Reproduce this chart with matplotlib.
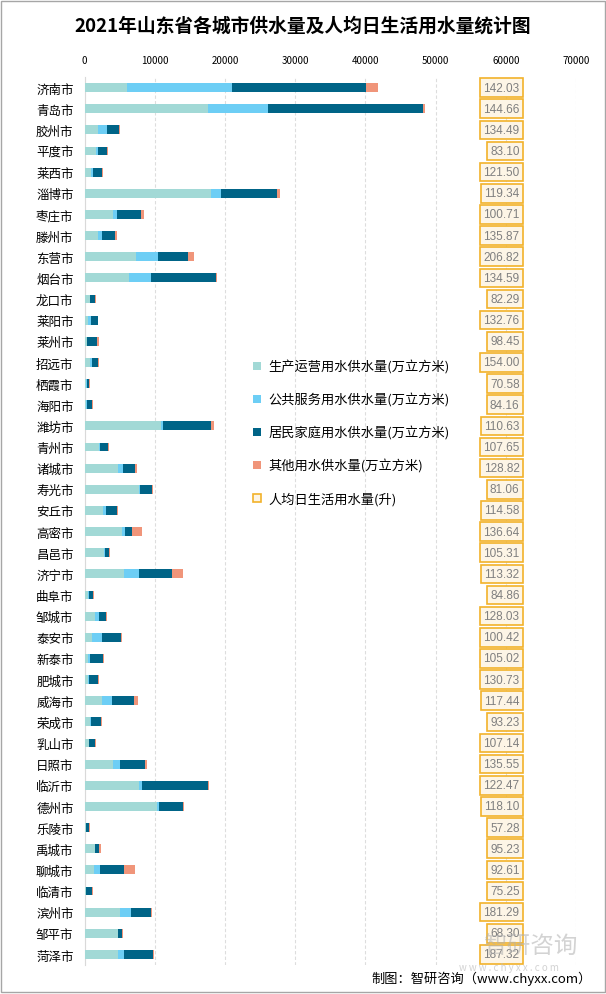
import numpy as np
import matplotlib.pyplot as plt
from matplotlib.patches import Patch, Rectangle

plt.rcParams['font.family'] = ['Noto Sans CJK SC', 'DejaVu Sans']

cities = [
    "济南市", "青岛市", "胶州市", "平度市", "莱西市", "淄博市", "枣庄市",
    "滕州市", "东营市", "烟台市", "龙口市", "莱阳市", "莱州市", "招远市",
    "栖霞市", "海阳市", "潍坊市", "青州市", "诸城市", "寿光市", "安丘市",
    "高密市", "昌邑市", "济宁市", "曲阜市", "邹城市", "泰安市", "新泰市",
    "肥城市", "威海市", "荣成市", "乳山市", "日照市", "临沂市", "德州市",
    "乐陵市", "禹城市", "聊城市", "临清市", "滨州市", "邹平市", "菏泽市",
]

# 生产运营用水 (万立方米)
production = [
    6050, 17600, 1900, 1620, 900, 18050, 4050,
    1900, 7330, 6330, 760, 480, 290, 760,
    190, 190, 10900, 2050, 4760, 7760, 2620,
    5330, 2760, 5620, 480, 1480, 1050, 480,
    480, 2480, 760, 620, 4050, 7760, 10330,
    190, 1480, 1330, 190, 5050, 4760, 4760,
]
# 公共服务用水 (万立方米)
public = [
    15000, 8570, 1290, 290, 290, 1430, 570,
    570, 3140, 3140, 50, 430, 50, 290,
    140, 140, 290, 140, 710, 50, 430,
    430, 140, 2140, 140, 570, 1430, 290,
    140, 1430, 140, 30, 1000, 430, 290,
    30, 30, 860, 30, 1570, 30, 860,
]
# 居民家庭用水 (万立方米)
household = [
    19000, 22100, 1710, 1290, 1290, 7860, 3430,
    1860, 4290, 9290, 710, 1000, 1430, 860,
    290, 710, 6860, 1140, 1710, 1710, 1570,
    1000, 570, 4710, 570, 1000, 2710, 1860,
    1290, 3140, 1430, 860, 3570, 9430, 3430,
    430, 570, 3430, 860, 2860, 570, 4140,
]
# 其他用水 (万立方米)
other = [
    1710, 190, 140, 140, 140, 430, 430,
    290, 860, 140, 100, 50, 290, 140,
    140, 140, 430, 140, 290, 140, 140,
    1430, 140, 1570, 140, 140, 140, 140,
    140, 570, 140, 140, 290, 140, 140,
    140, 290, 1570, 140, 140, 140, 140,
]
# 人均日生活用水量 (升)
per_capita = [
    142.03, 144.66, 134.49, 83.10, 121.50, 119.34, 100.71,
    135.87, 206.82, 134.59, 82.29, 132.76, 98.45, 154.00,
    70.58, 84.16, 110.63, 107.65, 128.82, 81.06, 114.58,
    136.64, 105.31, 113.32, 84.86, 128.03, 100.42, 105.02,
    130.73, 117.44, 93.23, 107.14, 135.55, 122.47, 118.10,
    57.28, 95.23, 92.61, 75.25, 181.29, 68.30, 187.32,
]

series = [
    ("生产运营用水供水量(万立方米)", production, "#A2D9D6"),
    ("公共服务用水供水量(万立方米)", public, "#6DCEF5"),
    ("居民家庭用水供水量(万立方米)", household, "#006487"),
    ("其他用水供水量(万立方米)", other, "#F0957A"),
]

fig = plt.figure(figsize=(6.06, 9.95), dpi=100)
ax = fig.add_axes([0.1398, 0.0291, 0.8107, 0.8925])

y = np.arange(len(cities))
left = np.zeros(len(cities))
handles = []
for name, vals, color in series:
    vals = np.array(vals, dtype=float)
    ax.barh(y, vals, left=left, height=0.42, color=color, zorder=3)
    left += vals
    handles.append(Patch(facecolor=color, edgecolor='none', label=name))

# per-capita labels in boxes
for yi, v in zip(y, per_capita):
    ax.text(61950, yi, f"{v:.2f}", ha='right', va='center', fontsize=8.5,
            color='#7F7F7F', family=['Liberation Sans'], zorder=4,
            bbox=dict(boxstyle='square,pad=0.28', facecolor='#FDF5E6',
                      edgecolor='#F2B22A', linewidth=1.2))
handles.append(Patch(facecolor='#FDF5E6', edgecolor='#F2B22A', linewidth=1.2,
                     label="人均日生活用水量(升)"))

ax.set_xlim(0, 70000)
ax.set_ylim(len(cities) - 0.5, -0.5)
ax.set_xticks(np.arange(0, 70001, 10000))
ax.xaxis.tick_top()
ax.tick_params(axis='x', length=0, labelsize=7, pad=9)
ax.tick_params(axis='y', length=0, labelsize=9, pad=8)
ax.set_yticks(y)
ax.set_yticklabels(cities)
ax.grid(axis='x', color='#DDDDDD', linestyle=(0, (3, 2)), linewidth=0.8, zorder=0)
for s in ['top', 'right', 'bottom']:
    ax.spines[s].set_visible(False)
ax.spines['left'].set_color('#D9D9D9')

leg = ax.legend(handles=handles, loc='upper left', bbox_to_anchor=(0.418, 0.638),
                bbox_transform=fig.transFigure, frameon=False, fontsize=9.5,
                handlelength=0.55, handleheight=0.55, handletextpad=0.6,
                labelspacing=1.45, borderpad=0, borderaxespad=0)
leg.set_zorder(5)

fig.text(0.5, 0.974, "2021年山东省各城市供水量及人均日生活用水量统计图",
         ha='center', va='center', fontsize=13.5, fontweight='bold')

# watermark
fig.text(0.875, 0.048, "智研咨询", ha='center', va='center', fontsize=17,
         color='#B0B0B0', alpha=0.55, zorder=0)
fig.text(0.84, 0.027, "w w w . c h y x x . c o m", ha='center', va='center',
         fontsize=7, color='#C0C0C0', alpha=0.7, zorder=0)

fig.text(0.977, 0.016, "制图：智研咨询（www.chyxx.com）", ha='right', va='center',
         fontsize=9.5)

fig.patches.append(Rectangle((0.002, 0.002), 0.996, 0.996, transform=fig.transFigure,
                             fill=False, edgecolor='#A6A6A6', linewidth=1))

fig.savefig("out.png", dpi=100)
